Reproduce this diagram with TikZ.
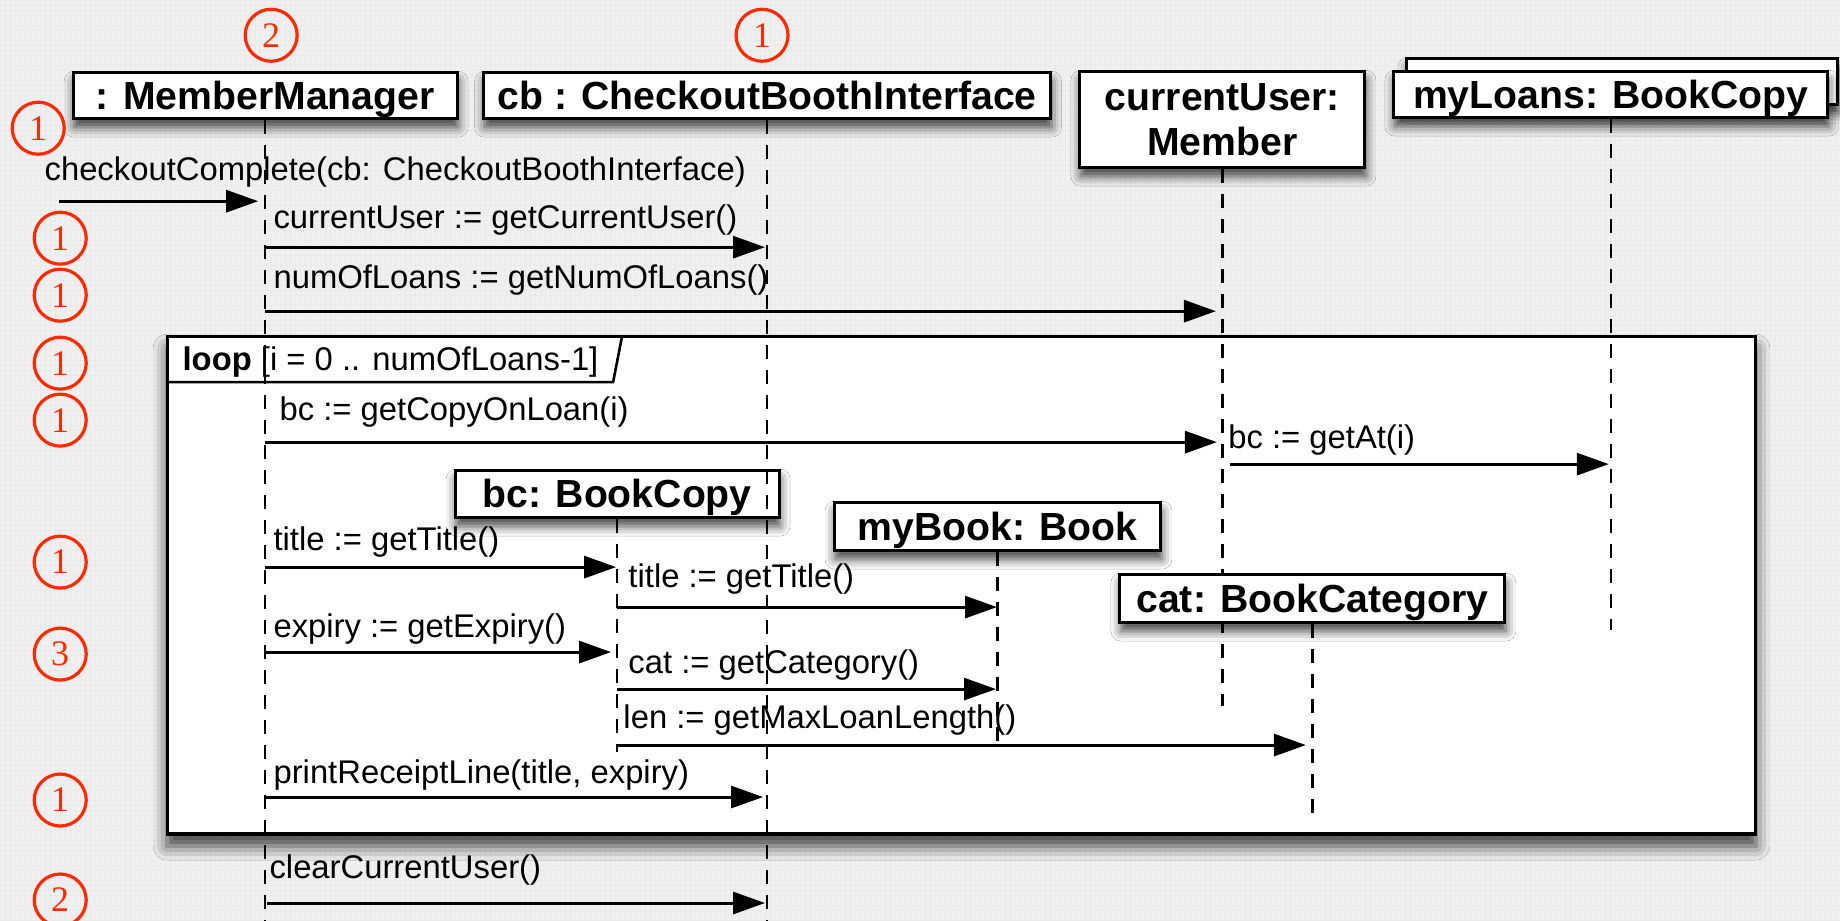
\documentclass[tikz,border=0pt]{standalone}
\usepackage{fontspec}
\setmainfont{Liberation Sans}
\newfontfamily\numfont{Liberation Serif}
\usetikzlibrary{arrows.meta,shadows.blur}
\definecolor{bg}{HTML}{F0F0F0}
\definecolor{gridc}{HTML}{EAEAEA}
\definecolor{annot}{HTML}{FF2A00}
\tikzset{
  myshadow/.style={blur shadow={shadow xshift=0.5pt, shadow yshift=-4.5pt, shadow blur radius=5pt, shadow opacity=75}},
  boxbase/.style={draw=black, line width=1.5pt, fill=white, inner sep=0pt,
    font=\bfseries\fontsize{19.6}{22.5}\selectfont, myshadow},
  objbox/.style={boxbase, text height=14pt, text depth=0pt},
  lifeline/.style={line width=1.2pt, dash pattern=on 7pt off 5.5pt},
  msg/.style={line width=1.5pt, -{Triangle[length=16pt,width=11pt]}},
  msglabel/.style={anchor=base west, inner sep=0pt, font=\fontsize{16.4}{19}\selectfont},
  annot/.style={circle, draw=annot, line width=1.6pt, minimum size=26pt, inner sep=0pt,
    text=annot, font=\numfont\fontsize{18}{20}\selectfont},
}
\begin{document}
\begin{tikzpicture}[x=0.5pt,y=-0.5pt]
% background
\fill[bg] (0,0) rectangle (1840,920);
\draw[gridc, line width=0.25pt, step=2.5pt] (0,0) grid (1840,920);
\useasboundingbox (0,0) rectangle (1840,920);

% loop frame
\node[draw=black, line width=1.6pt, fill=white, minimum width=794.5pt, minimum height=249pt,
      inner sep=0pt, blur shadow={shadow xshift=0pt, shadow yshift=-6pt, shadow blur radius=7pt, shadow opacity=75}]
      (loopframe) at (961.5,585) {};
\coordinate (tagA) at (622,336);
\coordinate (tagB) at (613,382);
\coordinate (tagC) at (167,382);
\draw[line width=1.3pt] (tagA) -- (tagB) -- (tagC);
\node[msglabel] (looplabel) at (182,370) {\textbf{loop} [i = 0 .. numOfLoans-1]};

% header objects
\node[objbox, minimum width=192pt, minimum height=23pt] (mm) at (265,95) {: MemberManager};
\node[objbox, minimum width=283.5pt, minimum height=23pt] (cb) at (767,95) {cb : CheckoutBoothInterface};
\node[boxbase, align=center, minimum width=142.5pt, minimum height=48pt] (cu) at (1222.5,119) {currentUser:\\Member};
\node[boxbase, minimum width=215.5pt, minimum height=23pt] (mlback) at (1622.5,81) {};
\node[objbox, minimum width=217pt, minimum height=23pt] (ml) at (1611,94) {myLoans: BookCopy};

% lifeline ends
\coordinate (mmEnd) at (265,920);
\coordinate (cbEnd) at (767,920);
\coordinate (cuEnd) at (1222.5,706);
\coordinate (mlEnd) at (1611,630);
\coordinate (bcEnd) at (617,752);
\coordinate (mbEnd) at (997.5,750);
\coordinate (catEnd) at (1312.5,822);

\draw[lifeline] (mm.south) -- (mmEnd);
\draw[lifeline] (cu.south) -- (cuEnd);
\draw[lifeline] (ml.south) -- (mlEnd);

% objects created inside loop
\node[objbox, minimum width=162pt, minimum height=23.5pt] (bc) at (617,493.5) {bc: BookCopy};
\node[objbox, minimum width=163.5pt, minimum height=24pt] (mb) at (997.5,526) {myBook: Book};
\node[objbox, minimum width=192.5pt, minimum height=24pt] (cat) at (1312.5,598) {cat: BookCategory};

\draw[lifeline] (cb.south) -- (cbEnd);
\draw[lifeline] (bc.south) -- (bcEnd);
\draw[lifeline] (mb.south) -- (mbEnd);
\draw[lifeline] (cat.south) -- (catEnd);

% message end points
\coordinate (m0s) at (59,201);   \coordinate (m0e) at (258,201);
\coordinate (m1s) at (265,247);  \coordinate (m1e) at (765,247);
\coordinate (m2s) at (265,311);  \coordinate (m2e) at (1216,311);
\coordinate (m3s) at (265,442);  \coordinate (m3e) at (1217,442);
\coordinate (m4s) at (1230,464); \coordinate (m4e) at (1609,464);
\coordinate (m5s) at (265,567);  \coordinate (m5e) at (616,567);
\coordinate (m6s) at (617,607);  \coordinate (m6e) at (997,607);
\coordinate (m7s) at (265,652);  \coordinate (m7e) at (611,652);
\coordinate (m8s) at (617,689);  \coordinate (m8e) at (996,689);
\coordinate (m9s) at (617,745);  \coordinate (m9e) at (1306,745);
\coordinate (m10s) at (265,797); \coordinate (m10e) at (763,797);
\coordinate (m11s) at (267,903); \coordinate (m11e) at (765,903);

\draw[msg] (m0s) -- (m0e);
\draw[msg] (m1s) -- (m1e);
\draw[msg] (m2s) -- (m2e);
\draw[msg] (m3s) -- (m3e);
\draw[msg] (m4s) -- (m4e);
\draw[msg] (m5s) -- (m5e);
\draw[msg] (m6s) -- (m6e);
\draw[msg] (m7s) -- (m7e);
\draw[msg] (m8s) -- (m8e);
\draw[msg] (m9s) -- (m9e);
\draw[msg] (m10s) -- (m10e);
\draw[msg] (m11s) -- (m11e);

% message labels
\node[msglabel] (l0) at (44,180) {checkoutComplete(cb: CheckoutBoothInterface)};
\node[msglabel] (l1) at (273,228) {currentUser := getCurrentUser()};
\node[msglabel] (l2) at (273,288) {numOfLoans := getNumOfLoans()};
\node[msglabel] (l3) at (279,420) {bc := getCopyOnLoan(i)};
\node[msglabel] (l4) at (1228,448) {bc := getAt(i)};
\node[msglabel] (l5) at (273,550) {title := getTitle()};
\node[msglabel] (l6) at (628,587) {title := getTitle()};
\node[msglabel] (l7) at (273,637) {expiry := getExpiry()};
\node[msglabel] (l8) at (628,673) {cat := getCategory()};
\node[msglabel] (l9) at (623,728) {len := getMaxLoanLength()};
\node[msglabel] (l10) at (273,783) {printReceiptLine(title, expiry)};
\node[msglabel] (l11) at (269,878) {clearCurrentUser()};

% annotation circles
\node[annot] (a1) at (271,35) {2};
\node[annot] (a2) at (762,35) {1};
\node[annot] (a3) at (38,128) {1};
\node[annot] (a4) at (60,238) {1};
\node[annot] (a5) at (60,295) {1};
\node[annot] (a6) at (60,363) {1};
\node[annot] (a7) at (60,420) {1};
\node[annot] (a8) at (60,562) {1};
\node[annot] (a9) at (60,654) {3};
\node[annot] (a10) at (60,800) {1};
\node[annot] (a11) at (60,900) {2};
\end{tikzpicture}
\end{document}
